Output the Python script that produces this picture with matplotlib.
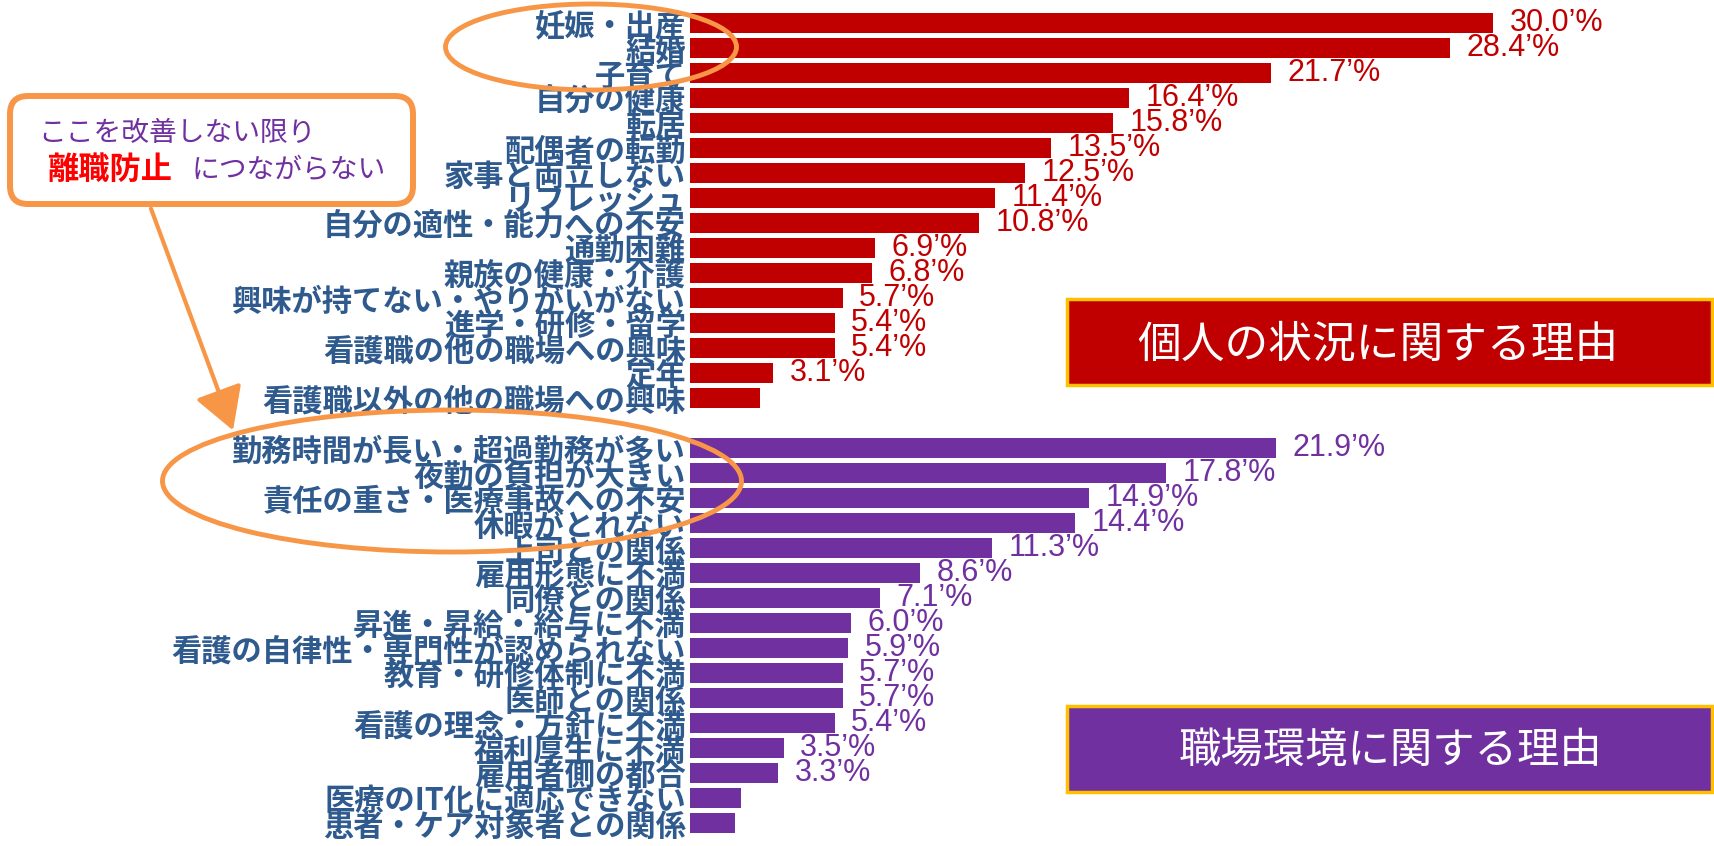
import numpy as np
import matplotlib.pyplot as plt
from matplotlib.patches import Ellipse, FancyBboxPatch, Rectangle, FancyArrowPatch

# 個人の状況に関する理由
personal_labels = ['妊娠・出産', '結婚', '子育て', '自分の健康', '転居', '配偶者の転勤',
                   '家事と両立しない', 'リフレッシュ', '自分の適性・能力への不安', '通勤困難',
                   '親族の健康・介護', '興味が持てない・やりがいがない', '進学・研修・留学',
                   '看護職の他の職場への興味', '定年', '看護職以外の他の職場への興味']
personal_values = [30.0, 28.4, 21.7, 16.4, 15.8, 13.5, 12.5, 11.4, 10.8, 6.9,
                   6.8, 5.7, 5.4, 5.4, 3.1, 2.6]
personal_shown = [True] * 15 + [False]

# 職場環境に関する理由
work_labels = ['勤務時間が長い・超過勤務が多い', '夜勤の負担が大きい', '責任の重さ・医療事故への不安',
               '休暇がとれない', '上司との関係', '雇用形態に不満', '同僚との関係',
               '昇進・昇給・給与に不満', '看護の自律性・専門性が認められない', '教育・研修体制に不満',
               '医師との関係', '看護の理念・方針に不満', '福利厚生に不満', '雇用者側の都合',
               '医療のIT化に適応できない', '患者・ケア対象者との関係']
work_values = [21.9, 17.8, 14.9, 14.4, 11.3, 8.6, 7.1, 6.0, 5.9, 5.7,
               5.7, 5.4, 3.5, 3.3, 1.9, 1.7]
work_shown = [True] * 14 + [False, False]

RED = '#C00000'
PURPLE = '#7030A0'
LABEL = '#2F5A8E'
ORANGE = '#F79646'
GOLD = '#FFC000'

W, H = 1714, 846
fig = plt.figure(figsize=(W / 100, H / 100), dpi=100)

# main bar axes: x=0 at 690px, 26.76 px per %, 25 px per row
x0 = 690
ax = fig.add_axes([x0 / W, 0, 1 - x0 / W, 1])
ax.set_xlim(0, (W - x0) / 26.76)
ax.set_ylim((H - 23) / 25, -23 / 25)

pos_p = np.arange(len(personal_values))
pos_w = np.arange(len(work_values)) + len(personal_values) + 1

ax.barh(pos_p, personal_values, height=0.8, color=RED)
ax.barh(pos_w, work_values, height=0.8, color=PURPLE)

for p, v, s in zip(pos_p, personal_values, personal_shown):
    if s:
        ax.annotate(f'{v:.1f}\u2019%', (v, p), xytext=(12, 0), textcoords='offset points',
                    ha='left', va='center', color=RED, fontsize=22,
                    fontfamily=['Liberation Sans', 'DejaVu Sans'])
for p, v, s in zip(pos_w, work_values, work_shown):
    if s:
        ax.annotate(f'{v:.1f}\u2019%', (v, p), xytext=(12, 0), textcoords='offset points',
                    ha='left', va='center', color=PURPLE, fontsize=22,
                    fontfamily=['Liberation Sans', 'DejaVu Sans'])

ax.set_yticks(list(pos_p) + list(pos_w), labels=personal_labels + work_labels)
ax.tick_params(axis='y', length=0, pad=3)
for t in ax.get_yticklabels():
    t.set_fontfamily(['Noto Sans CJK JP', 'DejaVu Sans'])
    t.set_fontweight('bold')
    t.set_fontsize(21.8)
    t.set_color(LABEL)
ax.set_xticks([])
for sp in ax.spines.values():
    sp.set_visible(False)
ax.patch.set_alpha(0)

# overlay in pixel coordinates for annotations
ov = fig.add_axes([0, 0, 1, 1])
ov.set_xlim(0, W)
ov.set_ylim(H, 0)
ov.axis('off')
ov.patch.set_alpha(0)

jp = ['Noto Sans CJK JP', 'DejaVu Sans']

# category boxes
ov.add_patch(Rectangle((1067, 299), 645, 86, facecolor=RED, edgecolor=GOLD, lw=2.5))
ov.text(1378, 345, '個人の状況に関する理由', color='white', fontsize=31.5,
        ha='center', va='center', fontfamily=jp)
ov.add_patch(Rectangle((1067, 706), 645, 86, facecolor=PURPLE, edgecolor=GOLD, lw=2.5))
ov.text(1390, 751, '職場環境に関する理由', color='white', fontsize=30.5,
        ha='center', va='center', fontfamily=jp)

# highlight ellipses
ov.add_patch(Ellipse((591, 47), 291, 86, fill=False, edgecolor=ORANGE, lw=3.5))
ov.add_patch(Ellipse((452, 481), 579, 142, fill=False, edgecolor=ORANGE, lw=3.5))

# callout
ov.add_patch(FancyBboxPatch((10, 96), 403, 108,
                            boxstyle='round,pad=0,rounding_size=18',
                            facecolor='white', edgecolor=ORANGE, lw=4.3))
ov.text(38, 133, 'ここを改善しない限り', color=PURPLE, fontsize=20,
        ha='left', va='center', fontfamily=jp)
ov.text(47, 170, '離職防止', color='#FF0000', fontsize=22.5, fontweight='bold',
        ha='left', va='center', fontfamily=jp)
ov.text(192, 170, 'につながらない', color=PURPLE, fontsize=20,
        ha='left', va='center', fontfamily=jp)

ov.add_patch(FancyArrowPatch((150, 206), (234, 433), arrowstyle='-|>,head_length=1.3,head_width=0.75',
                             mutation_scale=20, color=ORANGE, lw=3))

fig.savefig('out.png', dpi=100)
